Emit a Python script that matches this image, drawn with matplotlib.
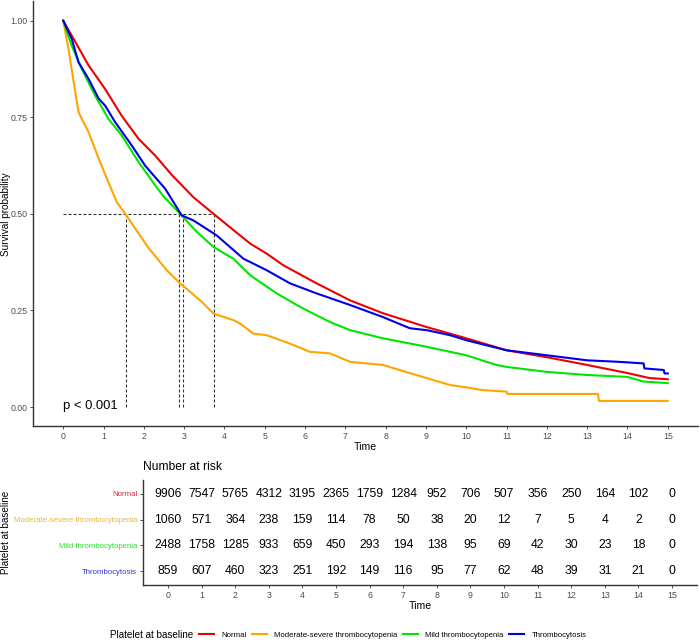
import matplotlib
matplotlib.use('Agg')
import matplotlib.pyplot as plt
from matplotlib.lines import Line2D

plt.rcParams['font.family'] = ['Liberation Sans', 'DejaVu Sans']

# groups and colours
groups = ['Normal', 'Moderate-severe thrombocytopenia', 'Mild thrombocytopenia', 'Thrombocytosis']
line_colors = ['#EE0000', '#FFA500', '#00E600', '#0000E6']
label_colors = ['#D42A45', '#E6B43C', '#2EDB2E', '#3434C8']

# survival curves
t_normal = [0, 0.3, 0.63, 1.04, 1.45, 1.87, 2.28, 2.70, 3.23, 3.73, 4.2, 4.64, 5.05, 5.46, 6.29,
            7.12, 7.93, 9.02, 10.0, 11.0, 12.0, 13.0, 14.0, 14.55, 15.0]
s_normal = [1.0, 0.945, 0.884, 0.823, 0.754, 0.694, 0.651, 0.600, 0.543, 0.50, 0.46, 0.423, 0.397,
            0.367, 0.320, 0.276, 0.243, 0.207, 0.178, 0.147, 0.129, 0.109, 0.088, 0.075, 0.072]

t_moderate = [0, 0.13, 0.26, 0.38, 0.63, 0.88, 1.12, 1.33, 1.54, 2.1, 2.57, 2.9, 3.4, 3.73, 4.22,
              4.39, 4.72, 5.05, 5.63, 6.12, 6.62, 7.12, 7.93, 8.5, 9.02, 9.6, 10.0, 10.4, 11.0,
              11.02, 13.27, 13.29, 15.0]
s_moderate = [1.0, 0.927, 0.841, 0.763, 0.711, 0.643, 0.582, 0.530, 0.50, 0.414, 0.354, 0.320, 0.276,
              0.242, 0.225, 0.216, 0.190, 0.186, 0.164, 0.143, 0.139, 0.117, 0.109, 0.091, 0.075,
              0.057, 0.051, 0.044, 0.040, 0.034, 0.034, 0.016, 0.016]

t_mild = [0, 0.21, 0.46, 0.79, 1.12, 1.45, 1.87, 2.28, 2.49, 2.90, 3.3, 3.73, 4.22, 4.64, 5.30,
          5.88, 6.62, 7.12, 7.93, 9.02, 10.0, 10.75, 11.0, 12.0, 13.0, 14.0, 14.4, 15.0]
s_mild = [1.0, 0.935, 0.875, 0.806, 0.746, 0.703, 0.634, 0.574, 0.545, 0.50, 0.455, 0.414, 0.384,
          0.341, 0.294, 0.259, 0.220, 0.199, 0.178, 0.156, 0.134, 0.109, 0.104, 0.091, 0.083,
          0.078, 0.066, 0.062]

t_thrombo = [0, 0.21, 0.38, 0.63, 0.88, 1.04, 1.29, 1.70, 2.03, 2.53, 2.94, 3.23, 3.81, 4.47,
             5.05, 5.63, 6.29, 7.12, 7.93, 8.6, 9.02, 9.6, 10.0, 11.0, 12.0, 13.0, 13.8, 14.4,
             14.42, 14.9, 14.92, 15.0]
s_thrombo = [1.0, 0.953, 0.892, 0.849, 0.798, 0.780, 0.737, 0.677, 0.625, 0.565, 0.496, 0.483,
             0.444, 0.384, 0.354, 0.320, 0.294, 0.264, 0.233, 0.204, 0.199, 0.186, 0.173, 0.147,
             0.134, 0.121, 0.117, 0.113, 0.100, 0.096, 0.087, 0.087]

medians = [3.73, 1.56, 2.88, 2.96]

# number at risk table
risk_times = list(range(16))
risk_normal = [9906, 7547, 5765, 4312, 3195, 2365, 1759, 1284, 952, 706, 507, 356, 250, 164, 102, 0]
risk_moderate = [1060, 571, 364, 238, 159, 114, 78, 50, 38, 20, 12, 7, 5, 4, 2, 0]
risk_mild = [2488, 1758, 1285, 933, 659, 450, 293, 194, 138, 95, 69, 42, 30, 23, 18, 0]
risk_thrombo = [859, 607, 460, 323, 251, 192, 149, 116, 95, 77, 62, 48, 39, 31, 21, 0]

curves = [(t_normal, s_normal), (t_moderate, s_moderate), (t_mild, s_mild), (t_thrombo, s_thrombo)]
risks = [risk_normal, risk_moderate, risk_mild, risk_thrombo]

W, H = 700, 642
fig = plt.figure(figsize=(7, 6.42), dpi=100)

def box(l, t, r, b):
    return [l / W, 1 - b / H, (r - l) / W, (b - t) / H]

tick_col = '#4d4d4d'
spine_col = '#333333'

# ---- survival plot
ax = fig.add_axes(box(33, 1.3, 698, 426.4))
dash = (0, (2.7, 1.8))
ax.plot([0, max(medians)], [0.5, 0.5], color=spine_col, lw=0.8, linestyle=dash)
for m in medians:
    ax.plot([m, m], [0, 0.5], color=spine_col, lw=0.8, linestyle=dash)
for (t, s), c in zip(curves, line_colors):
    ax.plot(t, s, color=c, lw=1.5, solid_joinstyle='round')

ax.set_xlim(-0.75, 15.75)
ax.set_ylim(-0.05, 1.05)
ax.set_xticks(range(16))
ax.set_yticks([0, 0.25, 0.5, 0.75, 1.0])
ax.set_yticklabels(['0.00', '0.25', '0.50', '0.75', '1.00'])
for sp in ['top', 'right']:
    ax.spines[sp].set_visible(False)
for sp in ['left', 'bottom']:
    ax.spines[sp].set_color(spine_col)
    ax.spines[sp].set_linewidth(1.0)
ax.tick_params(length=2.5, width=0.6, color=spine_col, labelcolor=tick_col, labelsize=6.3, pad=1.5)
ax.set_xlabel('Time', fontsize=7.6, labelpad=1)
ax.set_ylabel('Survival probability', fontsize=7.2)
ax.yaxis.set_label_coords((11 - 33) / 665, 0.5)
ax.text(0, 0.003, 'p < 0.001', fontsize=9.4, ha='left', va='center')

# ---- risk table
axt = fig.add_axes(box(142.8, 480, 697.2, 585))
for i, r in enumerate(risks):
    for x, n in zip(risk_times, r):
        axt.text(x, i + 1, str(n), fontsize=8.7, ha='center', va='center')
axt.set_xlim(-0.75, 15.75)
axt.set_ylim(4.52, 0.48)
axt.set_xticks(risk_times)
axt.set_yticks([1, 2, 3, 4])
axt.set_yticklabels(groups)
for lab, c in zip(axt.get_yticklabels(), label_colors):
    lab.set_color(c)
for sp in ['top', 'right']:
    axt.spines[sp].set_visible(False)
for sp in ['left', 'bottom']:
    axt.spines[sp].set_color(spine_col)
    axt.spines[sp].set_linewidth(1.0)
axt.tick_params(length=2.5, width=0.6, color=spine_col, labelsize=6.3, pad=1.5)
axt.tick_params(axis='x', labelcolor=tick_col)
axt.tick_params(axis='y', labelsize=5.6)
axt.set_xlabel('Time', fontsize=7.6, labelpad=1)
axt.text(0, 1 + 13 / 105, 'Number at risk', transform=axt.transAxes, fontsize=8.7,
         ha='left', va='center')
fig.text(6 / W, 1 - 532 / H, 'Platelet at baseline', rotation=90, fontsize=7.1,
         ha='center', va='center')

# ---- legend
fig.text(110 / W, 1 - 635 / H, 'Platelet at baseline', fontsize=7.1, ha='left', va='center')
handles = [Line2D([], [], color=c, lw=1.5) for c in line_colors]
fig.legend(handles, groups, loc='center left', bbox_to_anchor=(199 / W, 1 - 635 / H),
           ncol=4, frameon=False, fontsize=5.6, handlelength=1.9, handletextpad=1.0,
           columnspacing=0.65, borderpad=0, borderaxespad=0)

fig.savefig('out.png', dpi=100)
